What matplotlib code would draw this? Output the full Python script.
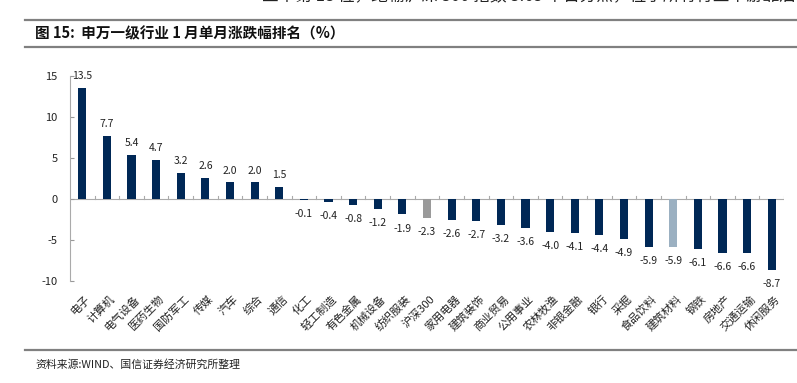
"""
申万一级行业 1 月单月涨跌幅排名 —— 柱状图复刻
"""

import numpy as np
from matplotlib import pyplot as plt
from matplotlib.lines import Line2D

plt.rcParams['font.family'] = ['Noto Sans CJK SC', 'DejaVu Sans']
plt.rcParams['axes.unicode_minus'] = False

# 行业名称与涨跌幅 (%)
industries = ['电子', '计算机', '电气设备', '医药生物', '国防军工', '传媒', '汽车',
              '综合', '通信', '化工', '轻工制造', '有色金属', '机械设备', '纺织服装',
              '沪深300', '家用电器', '建筑装饰', '商业贸易', '公用事业', '农林牧渔',
              '非银金融', '银行', '采掘', '食品饮料', '建筑材料', '钢铁', '房地产',
              '交通运输', '休闲服务']
changes = [13.5, 7.7, 5.4, 4.7, 3.2, 2.6, 2.0, 2.0, 1.5, -0.1, -0.4, -0.8, -1.2,
           -1.9, -2.3, -2.6, -2.7, -3.2, -3.6, -4.0, -4.1, -4.4, -4.9, -5.9, -5.9,
           -6.1, -6.6, -6.6, -8.7]
y_ticks = [15, 10, 5, 0, -5, -10]

# 颜色: 普通行业深蓝, 沪深300 灰色, 建筑材料 浅蓝灰
navy = '#002856'
special_colors = {'沪深300': '#9a9a9a', '建筑材料': '#9bb0c1'}
colors = [special_colors.get(name, navy) for name in industries]

fig = plt.figure(figsize=(7.97, 3.83), dpi=100)

# 页面上被截掉的正文和分隔线
fig.text(262/797, 1 + 3/383, '业中第 18 位，跑输沪深 300 指数 3.65 个百分点，位于所有行业中游靠后水平',
         fontsize=12, va='center', ha='left', color='#222222')
for y_px, x0 in [(20, 25), (47, 25), (350, 25)]:
    fig.add_artist(Line2D([x0/797, 1.0], [1 - y_px/383]*2, color='#808080',
                          linewidth=1.6, transform=fig.transFigure))
fig.text(35/797, 1 - 33/383, '图 15:  申万一级行业 1 月单月涨跌幅排名（%）',
         fontsize=10.5, fontweight='bold', va='center', ha='left', color='#111111')
fig.text(35/797, 1 - 364/383, '资料来源:WIND、国信证券经济研究所整理',
         fontsize=7.8, va='center', ha='left', color='#222222')

ax = fig.add_axes([70/797, 1 - 281/383, 714/797, 205.3/383])
x = np.arange(len(industries))
ax.bar(x, changes, width=0.33, color=colors, zorder=2)

ax.set_xlim(-0.5, len(industries) - 0.5)
ax.set_ylim(-10, 15)
ax.set_yticks(y_ticks)
ax.set_yticklabels([str(v) for v in y_ticks], fontsize=8, color='#222222')
ax.tick_params(axis='y', direction='in', length=3, pad=9, color='#999999')

for side in ['top', 'right', 'bottom']:
    ax.spines[side].set_visible(False)
ax.spines['left'].set_color('#aaaaaa')
ax.spines['left'].set_linewidth(0.8)

# 零轴线及其分隔刻度
ax.axhline(0, color='#aaaaaa', linewidth=0.8, zorder=1)
for b in np.arange(0.5, len(industries) - 0.5 + 1e-9, 1.0):
    ax.plot([b, b], [0, 0.35], color='#aaaaaa', linewidth=0.8, zorder=1)
ax.set_xticks([])

# 数值标签
for xi, v in zip(x, changes):
    if v >= 0:
        ax.annotate(f'{v:.1f}', (xi, v), xytext=(0, 5), textcoords='offset points',
                    ha='center', va='bottom', fontsize=7.5, color='#222222')
    else:
        ax.annotate(f'{v:.1f}', (xi, v), xytext=(0, -6.5), textcoords='offset points',
                    ha='center', va='top', fontsize=7.5, color='#222222')

# 行业名称 (45 度倾斜)
for xi, name in zip(x, industries):
    ax.annotate(name, (xi, -10), xytext=(2, -9), textcoords='offset points',
                rotation=45, rotation_mode='anchor', ha='right', va='top',
                fontsize=8, color='#222222')

fig.savefig('out.png', dpi=100)
